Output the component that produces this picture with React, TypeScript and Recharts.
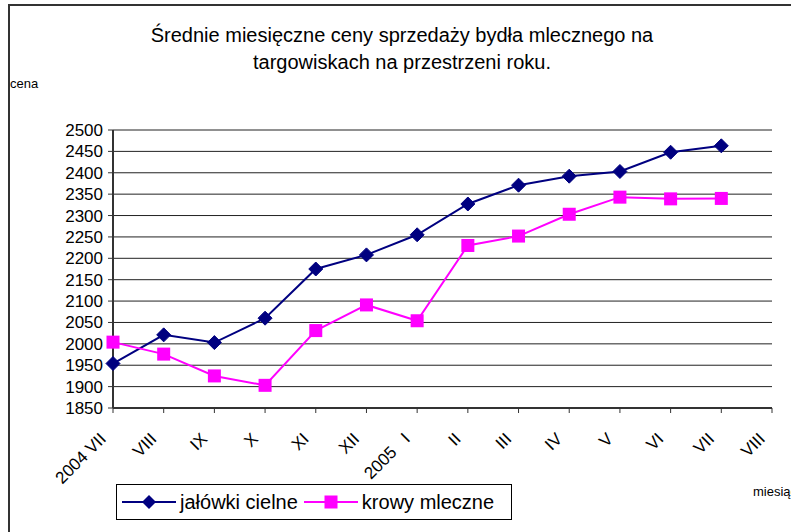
import React from 'react';
import { LineChart, Line, XAxis, YAxis, CartesianGrid, Legend } from 'recharts';

const months = ['2004 VII', 'VIII', 'IX', 'X', 'XI', 'XII', '2005   I', 'II', 'III', 'IV', 'V', 'VI', 'VII', 'VIII'];
const jalowki = [1954, 2021, 2003, 2060, 2175, 2208, 2255, 2327, 2371, 2392, 2403, 2448, 2463];
const krowy = [2004, 1976, 1925, 1903, 2031, 2091, 2054, 2230, 2252, 2303, 2343, 2339, 2340];
const yTicks = [1850, 1900, 1950, 2000, 2050, 2100, 2150, 2200, 2250, 2300, 2350, 2400, 2450, 2500];
const seriesNames = ['jałówki cielne', 'krowy mleczne'];

const NAVY = '#000080';
const MAGENTA = '#FF00FF';
const FONT = '"Liberation Sans", Arial, sans-serif';

const data = months.map((m, i) => ({ month: m, jalowki: jalowki[i], krowy: krowy[i] }));

const Diamond = (p: any) => {
  const { cx, cy, index } = p;
  if (cx == null || cy == null || p.value == null) return <g key={`d-${index}`} />;
  const r = 7;
  return (
    <polygon
      key={`d-${index}`}
      points={`${cx},${cy - r} ${cx + r},${cy} ${cx},${cy + r} ${cx - r},${cy}`}
      fill={NAVY}
      stroke={NAVY}
    />
  );
};

const Square = (p: any) => {
  const { cx, cy, index } = p;
  if (cx == null || cy == null || p.value == null) return <g key={`s-${index}`} />;
  const s = 13;
  return <rect key={`s-${index}`} x={cx - s / 2} y={cy - s / 2} width={s} height={s} fill={MAGENTA} />;
};

const MonthTick = (props: any) => {
  const { x, y, payload } = props;
  return (
    <g transform={`translate(${x - 6},${y + 25})`}>
      <text
        textAnchor="end"
        transform="rotate(-45)"
        fontSize={17}
        fontFamily={FONT}
        fill="#000"
        style={{ whiteSpace: 'pre' }}
      >
        {payload.value}
      </text>
    </g>
  );
};

const LegendIcon = ({ index }: { index: number }) => (
  <svg width={54} height={16} style={{ display: 'block' }}>
    <line x1={0} y1={8} x2={54} y2={8} stroke={index === 0 ? NAVY : MAGENTA} strokeWidth={2} />
    {index === 0 ? (
      <polygon points="27,1 34,8 27,15 20,8" fill={NAVY} />
    ) : (
      <rect x={20.5} y={1.5} width={13} height={13} fill={MAGENTA} />
    )}
  </svg>
);

const LegendBox = () => (
  <div
    style={{
      border: '1px solid #000',
      boxSizing: 'border-box',
      height: 36,
      width: 396,
      display: 'flex',
      alignItems: 'center',
      background: '#fff',
      fontFamily: FONT,
      fontSize: 20,
      color: '#000',
      paddingLeft: 5,
    }}
  >
    {seriesNames.map((name, i) => (
      <div key={name} style={{ display: 'flex', alignItems: 'center', marginRight: 6 }}>
        <LegendIcon index={i} />
        <span style={{ marginLeft: 4 }}>{name}</span>
      </div>
    ))}
  </div>
);

export default function App() {
  return (
    <div
      style={{
        position: 'absolute',
        left: 0,
        top: 0,
        width: 791,
        height: 532,
        overflow: 'hidden',
        background: '#fff',
        fontFamily: FONT,
      }}
    >
      <div
        style={{
          position: 'absolute',
          left: 8,
          top: 4,
          width: 900,
          height: 700,
          borderTop: '2px solid #333',
          borderLeft: '2px solid #333',
        }}
      />
      <div
        style={{
          position: 'absolute',
          left: 0,
          top: 22,
          width: 804,
          textAlign: 'center',
          fontSize: 20,
          lineHeight: '27px',
          color: '#000',
        }}
      >
        Średnie miesięczne ceny sprzedaży bydła mlecznego na
        <br />
        targowiskach na przestrzeni roku.
      </div>
      <div style={{ position: 'absolute', left: 10, top: 76, fontSize: 13, color: '#000' }}>cena</div>
      <div style={{ position: 'absolute', left: 753, top: 484, fontSize: 13, color: '#000', whiteSpace: 'nowrap' }}>
        miesiąc
      </div>
      <div style={{ position: 'absolute', left: 0, top: 0 }}>
        <LineChart width={791} height={532} data={data} margin={{ top: 130, right: 19, bottom: 94, left: 53 }}>
          <CartesianGrid vertical={false} stroke="#222" strokeWidth={1} />
          <XAxis
            dataKey="month"
            interval={0}
            tick={<MonthTick />}
            tickSize={5}
            height={30}
            axisLine={{ stroke: '#333', strokeWidth: 2 }}
            tickLine={{ stroke: '#333' }}
          />
          <XAxis
            xAxisId="top"
            dataKey="month"
            orientation="top"
            height={0}
            tick={false}
            tickLine={false}
            axisLine={{ stroke: '#888', strokeWidth: 2 }}
          />
          <YAxis
            domain={[1850, 2500]}
            ticks={yTicks}
            interval={0}
            width={60}
            tickSize={5}
            tickMargin={5}
            tick={{ fontSize: 17, fill: '#000', fontFamily: FONT }}
            axisLine={{ stroke: '#333', strokeWidth: 2 }}
            tickLine={{ stroke: '#333' }}
          />
          <YAxis
            yAxisId="right"
            orientation="right"
            domain={[1850, 2500]}
            width={0}
            tick={false}
            tickLine={false}
            axisLine={{ stroke: '#888', strokeWidth: 2 }}
          />
          <Line
            dataKey="jalowki"
            name={seriesNames[0]}
            stroke={NAVY}
            strokeWidth={2}
            dot={Diamond}
            activeDot={false}
            isAnimationActive={false}
          />
          <Line
            dataKey="krowy"
            name={seriesNames[1]}
            stroke={MAGENTA}
            strokeWidth={2}
            dot={Square}
            activeDot={false}
            isAnimationActive={false}
          />
          <Legend
            layout="horizontal"
            verticalAlign="middle"
            align="center"
            content={<LegendBox />}
            wrapperStyle={{ left: 116, top: 484, width: 396, height: 36 }}
          />
        </LineChart>
      </div>
    </div>
  );
}
